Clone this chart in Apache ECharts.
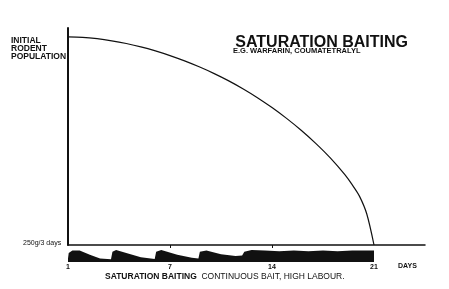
<!DOCTYPE html>
<html>
<head>
<meta charset="utf-8">
<script src="https://cdn.jsdelivr.net/npm/echarts@6/dist/echarts.min.js"></script>
<style>html,body{margin:0;padding:0;background:#fff;}#c{width:449px;height:289px;}</style>
</head>
<body>
<div id="c"></div>
<script>
// Rodent population (% of initial) by day
const popDays = [0,1,2,3,4,5,6,7,8,9,10,11,12,13,14,15,16,17,18,19,19.5,20,20.5,21];
const popValues = [100,99.8,99.15,98.15,96.85,95.25,93.3,91.05,88.5,85.65,82.5,79,75.1,70.8,66.05,60.85,55.15,48.85,41.85,33.8,29,23.5,15,0];
// Bait laid (relative amount) by day — 250g every 3 days, then continuous
const baitDays = [0,0.05,0.3,0.8,1.5,2.2,2.95,3.05,3.3,4,5,5.95,6.05,6.4,7.5,8.5,8.95,9.05,9.5,10.5,11.5,11.95,12.1,12.6,13.5,14.5,15.5,16.5,17.5,18.5,19.5,20.5,21,21];
const baitValues = [0.3,0.75,0.95,0.95,0.6,0.3,0.22,0.85,1,0.75,0.4,0.25,0.85,1,0.6,0.35,0.3,0.85,0.95,0.65,0.5,0.55,0.85,1,0.95,0.9,0.95,0.9,0.95,0.9,0.95,0.95,0.95,0];
const tickDays = [0,7,14,21];
const tickLabels = ['1','7','14','21'];

const FONT = 'Liberation Sans';
const chart = echarts.init(document.getElementById('c'), null, {renderer:'canvas'});
chart.setOption({
  animation:false,
  backgroundColor:'#fff',
  grid:[
    {left:68, right:24, top:28, bottom:44},
    {left:68, right:24, top:250, bottom:27}
  ],
  xAxis:[
    {type:'value', gridIndex:0, min:0, max:24.5,
     axisLine:{show:true, lineStyle:{color:'#111', width:1.5}},
     axisTick:{show:true, length:3, customValues:[7,14], lineStyle:{color:'#111', width:1}},
     axisLabel:{show:false}, splitLine:{show:false}},
    {type:'value', gridIndex:1, min:0, max:24.5,
     axisLine:{show:false}, axisTick:{show:false}, splitLine:{show:false},
     axisLabel:{show:true, customValues:tickDays, margin:2,
       formatter:function(v){ const i = tickDays.indexOf(v); return i>=0 ? tickLabels[i] : ''; },
       fontFamily:FONT, fontSize:7, fontWeight:'bold', color:'#111'}}
  ],
  yAxis:[
    {type:'value', gridIndex:0, min:0, max:104.3,
     axisLine:{show:true, lineStyle:{color:'#111', width:2}},
     axisTick:{show:false}, axisLabel:{show:false}, splitLine:{show:false}},
    {type:'value', gridIndex:1, min:0, max:1, show:false}
  ],
  series:[
    {type:'line', xAxisIndex:0, yAxisIndex:0, smooth:0.3, symbol:'none',
     data: popDays.map((d,i)=>[d, popValues[i]]),
     lineStyle:{color:'#111', width:1.2}},
    {type:'line', xAxisIndex:1, yAxisIndex:1, smooth:false, symbol:'none',
     data: baitDays.map((d,i)=>[d, baitValues[i]]),
     lineStyle:{width:0}, areaStyle:{color:'#111', opacity:1}}
  ],
  graphic:[
    {type:'text', left:11, top:36, style:{text:'INITIAL\nRODENT\nPOPULATION', font:'bold 8.5px "Liberation Sans"', lineHeight:8, fill:'#111'}},
    {type:'text', right:41, top:35, style:{text:'SATURATION BAITING', font:'bold 16px "Liberation Sans"', fill:'#111'}},
    {type:'text', left:233, top:47, style:{text:'E.G. WARFARIN, COUMATETRALYL', font:'bold 7.5px "Liberation Sans"', fill:'#111'}},
    {type:'text', left:23, top:240, style:{text:'250g/3 days', font:'7px "Liberation Sans"', fill:'#111'}},
    {type:'text', left:398, top:263, style:{text:'DAYS', font:'bold 7px "Liberation Sans"', fill:'#111'}},
    {type:'text', left:105, top:272, style:{
      rich:{b:{font:'bold 8.5px "Liberation Sans"', fill:'#111'}, r:{font:'8.5px "Liberation Sans"', fill:'#111'}},
      text:'{b|SATURATION BAITING}{r|  CONTINUOUS BAIT, HIGH LABOUR.}'}}
  ]
});
</script>
</body>
</html>
